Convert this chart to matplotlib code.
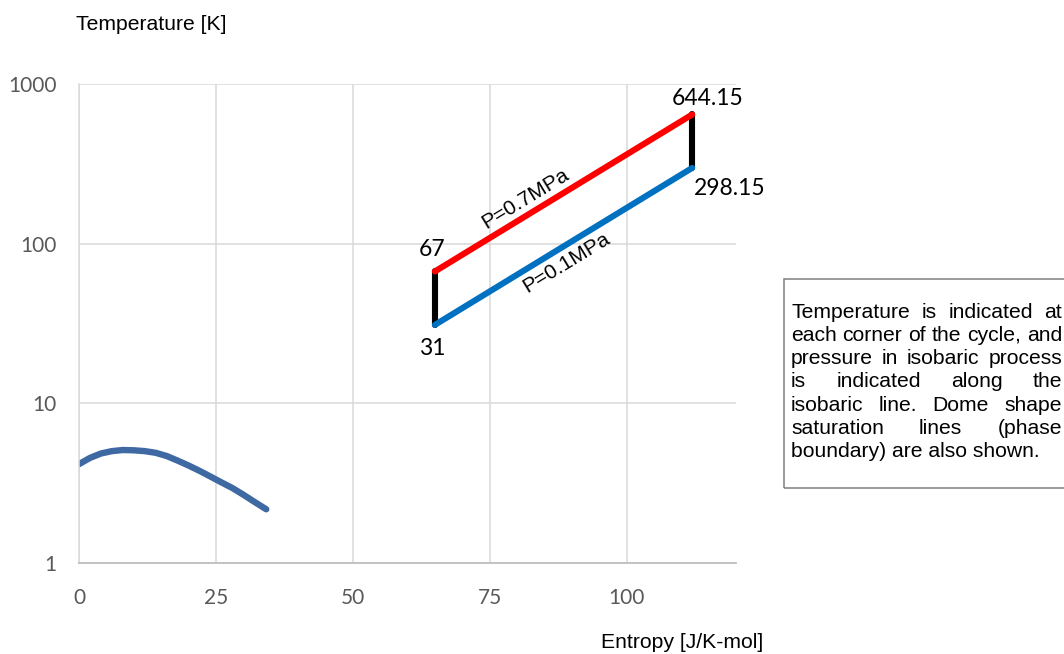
import matplotlib
matplotlib.use("Agg")
import matplotlib.pyplot as plt
from matplotlib.patches import Rectangle
import numpy as np

# ---------------- data ----------------
dome_s = [0, 2, 4, 6, 8, 10, 12, 14, 16, 18, 20, 22, 24, 26, 28, 30, 32, 34.2]
dome_T = [4.16, 4.55, 4.85, 5.02, 5.1, 5.08, 5.02, 4.9, 4.68, 4.38, 4.08, 3.78,
          3.48, 3.2, 2.95, 2.68, 2.42, 2.17]

s_low, s_high = 65, 112
T_corners = {"low_left": 31, "high_left": 67, "high_right": 644.15, "low_right": 298.15}

high_p_s = [s_low, s_high]
high_p_T = [67, 644.15]          # P=0.7MPa
low_p_s = [s_low, s_high]
low_p_T = [31, 298.15]           # P=0.1MPa
left_v_s = [s_low, s_low]
left_v_T = [31, 67]
right_v_s = [s_high, s_high]
right_v_T = [298.15, 644.15]

x_ticks = [0, 25, 50, 75, 100]
y_ticks = [1, 10, 100, 1000]
y_tick_labels = ["1", "10", "100", "1000"]

note_lines = ["Temperature is indicated at",
              "each corner of the cycle, and",
              "pressure in isobaric process",
              "is indicated along the",
              "isobaric line. Dome shape",
              "saturation lines (phase",
              "boundary) are also shown."]

# ---------------- figure ----------------
W, H = 1064, 654
fig = plt.figure(figsize=(W / 100, H / 100), dpi=100)
fig.patch.set_facecolor("white")

def fx(px):
    return px / W

def fy(py):
    return 1 - py / H

ax = fig.add_axes([fx(79), fy(563), fx(736) - fx(79), fy(84) - fy(563)])
ax.set_yscale("log")
ax.set_xlim(0, 120)
ax.set_ylim(1, 1000)
ax.set_xticks(x_ticks)
ax.set_xticklabels([str(t) for t in x_ticks])
ax.set_yticks(y_ticks)
ax.set_yticklabels(y_tick_labels)
ax.minorticks_off()
ax.yaxis.set_minor_locator(matplotlib.ticker.NullLocator())
ax.grid(True, color="#D9D9D9", linewidth=1.1)
ax.set_axisbelow(True)
for side in ["top", "right"]:
    ax.spines[side].set_visible(False)
ax.spines["left"].set_color("#D9D9D9")
ax.spines["left"].set_linewidth(1.1)
ax.spines["bottom"].set_color("#BFBFBF")
ax.spines["bottom"].set_linewidth(1.3)
ax.tick_params(axis="both", length=0, colors="#595959")
ax.tick_params(axis="x", pad=18)
ax.tick_params(axis="y", pad=16)
for lab in ax.get_xticklabels() + ax.get_yticklabels():
    lab.set_fontfamily(["Lato", "DejaVu Sans"])
    lab.set_fontsize(15)
    lab.set_color("#595959")

lw = 4.4
ax.plot(dome_s, dome_T, color="#3F69A3", lw=4.6, solid_capstyle="round", solid_joinstyle="round")
ax.plot(left_v_s, left_v_T, color="black", lw=lw, solid_capstyle="round")
ax.plot(right_v_s, right_v_T, color="black", lw=lw, solid_capstyle="round")
ax.plot(high_p_s, high_p_T, color="#FF0000", lw=lw, solid_capstyle="round")
ax.plot(low_p_s, low_p_T, color="#0070C0", lw=lw, solid_capstyle="round")

# corner labels
lab_font = dict(family=["Lato", "DejaVu Sans"], size=16.5, color="black")
ax.annotate(f"{T_corners['high_left']:g}", (s_low, T_corners["high_left"]), xytext=(-3, 22),
            textcoords="offset pixels", ha="center", va="center", **lab_font)
ax.annotate(f"{T_corners['low_left']:g}", (s_low, T_corners["low_left"]), xytext=(-3, -24),
            textcoords="offset pixels", ha="center", va="center", **lab_font)
ax.annotate(f"{T_corners['high_right']:g}", (s_high, T_corners["high_right"]), xytext=(15, 16),
            textcoords="offset pixels", ha="center", va="center", **lab_font)
ax.annotate(f"{T_corners['low_right']:g}", (s_high, T_corners["low_right"]), xytext=(37, -21),
            textcoords="offset pixels", ha="center", va="center", **lab_font)

# pressure labels rotated along lines
def line_angle(xs, ys):
    p = ax.transData.transform(np.column_stack([xs, ys]))
    return np.degrees(np.arctan2(p[1, 1] - p[0, 1], p[1, 0] - p[0, 0]))

ang_hi = line_angle(high_p_s, high_p_T)
ang_lo = line_angle(low_p_s, low_p_T)
p_font = dict(family=["Liberation Sans", "DejaVu Sans"], size=15, color="black")
ax.text(81.5, 191, "P=0.7MPa", rotation=ang_hi, rotation_mode="anchor",
        ha="center", va="center", **p_font)
ax.text(89.1, 76.0, "P=0.1MPa", rotation=ang_lo, rotation_mode="anchor",
        ha="center", va="center", **p_font)

# axis titles
title_font = dict(family=["Liberation Sans", "DejaVu Sans"], size=15.2, color="black")
fig.text(fx(76), fy(25), "Temperature [K]", ha="left", va="center", **title_font)
fig.text(fx(763), fy(643), "Entropy [J/K-mol]", ha="right", va="center", **title_font)

# note box
fig.patches.append(Rectangle((fx(784), fy(488)), fx(1080) - fx(784), fy(279) - fy(488),
                             transform=fig.transFigure, fill=False, edgecolor="#7F7F7F",
                             linewidth=1.1, clip_on=False))

renderer = fig.canvas.get_renderer()
note_font = dict(family=["Liberation Sans", "DejaVu Sans"], size=15.2, color="black")
x_left, x_right = 791, 1062
y0, dy = 312, 23.3
sp = fig.text(0, 0, "a a", **note_font)
sp_w = sp.get_window_extent(renderer).width
a = fig.text(0, 0, "aa", **note_font)
sp_w -= a.get_window_extent(renderer).width
sp.remove(); a.remove()
for i, line in enumerate(note_lines):
    yy = y0 + i * dy
    words = line.split()
    if i == len(note_lines) - 1:
        fig.text(fx(x_left), fy(yy), line, ha="left", va="center", **note_font)
        continue
    widths = []
    texts = []
    for w in words:
        t = fig.text(0, 0, w, ha="left", va="center", **note_font)
        widths.append(t.get_window_extent(renderer).width)
        texts.append(t)
    gap = max(sp_w * 0.8, (x_right - x_left - sum(widths)) / (len(words) - 1))
    cx = x_left
    for t, wdt in zip(texts, widths):
        t.set_position((fx(cx), fy(yy)))
        cx += wdt + gap

fig.savefig("out.png", dpi=100, facecolor="white")
